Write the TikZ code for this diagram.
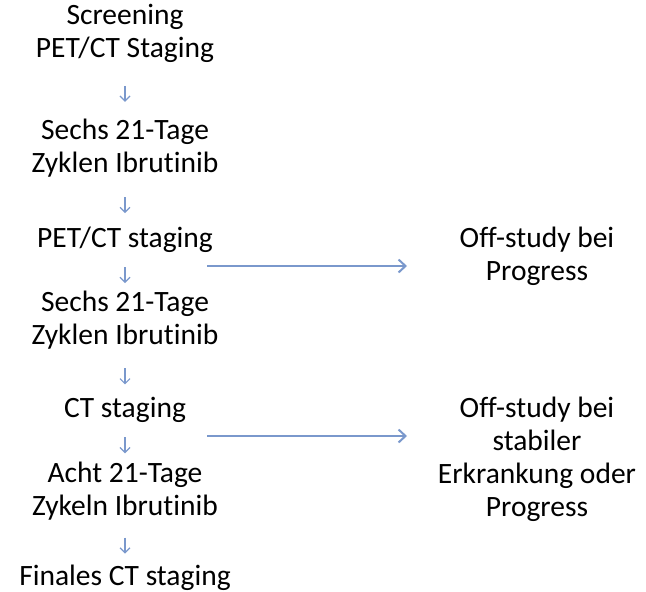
\documentclass[tikz,border=0pt]{standalone}
\usepackage{fontspec}
\setmainfont{Carlito}[Ligatures=NoCommon]
\usepackage{xcolor}
\usepackage{tikz}
\usetikzlibrary{arrows.meta,positioning,calc}
\definecolor{arrowblue}{RGB}{122,152,204}

\begin{document}
\begin{tikzpicture}[x=1pt, y=-1pt, auto]
    % Define styles
    \tikzstyle{stage} = [align=center, inner sep=0pt, font=\fontsize{29.5}{33}\selectfont]
    \tikzstyle{down} = [draw=arrowblue, line width=1.2pt, -{Straight Barb[length=5pt,width=10pt]},
        to path={($(\tikztostart.south)!0.5!(\tikztotarget.north)+(0,3)$) +(0,-8) -- +(0,8)}]
    \tikzstyle{side} = [draw=arrowblue, line width=2pt, -{Straight Barb[length=7pt,width=13pt]}]

    \useasboundingbox (0,0) rectangle (646,592);

    % Place nodes
    \node [stage] (screen) at (125,33.5) {Screening\\PET/CT Staging};
    \node [stage, below of=screen, node distance=114.5pt] (cyclesA) {Sechs 21-Tage\\Zyklen Ibrutinib};
    \node [stage, below of=cyclesA, node distance=92pt] (petct) {PET/CT staging};
    \node [stage, below of=petct, node distance=80.5pt] (cyclesB) {Sechs 21-Tage\\Zyklen Ibrutinib};
    \node [stage, below of=cyclesB, node distance=89.5pt] (ct) {CT staging};
    \node [stage, below of=ct, node distance=81pt] (cyclesC) {Acht 21-Tage\\Zykeln Ibrutinib};
    \node [stage, below of=cyclesC, node distance=87pt] (final) {Finales CT staging};

    \node [stage] (offA) at (537,256) {Off-study bei\\Progress};
    \node [stage] (offB) at (537,459) {Off-study bei\\stabiler\\Erkrankung oder\\Progress};

    \coordinate (sideA) at (207,266);
    \coordinate (sideAend) at (407,266);
    \coordinate (sideB) at (207,436);
    \coordinate (sideBend) at (407,436);

    % Draw edges
    \path [down] (screen) to (cyclesA);
    \path [down] (cyclesA) to (petct);
    \path [down] (petct) to (cyclesB);
    \path [down] (cyclesB) to (ct);
    \path [down] (ct) to (cyclesC);
    \path [down] (cyclesC) to (final);
    \path [side] (sideA) -- (sideAend);
    \path [side] (sideB) -- (sideBend);
\end{tikzpicture}
\end{document}
